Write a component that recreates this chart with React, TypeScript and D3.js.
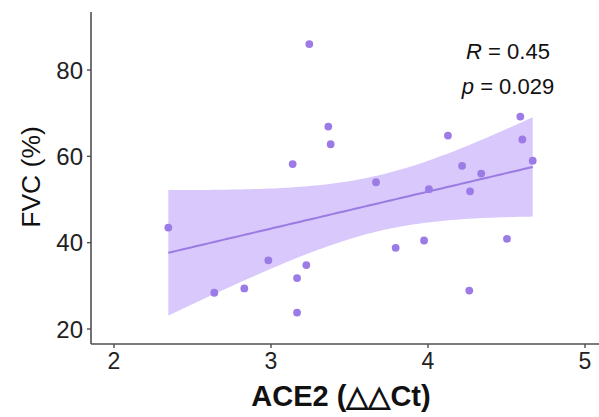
import React from "react";
import * as d3 from "d3";

const ace2: number[] = [2.346, 2.639, 2.830, 2.983, 3.138, 3.166, 3.166, 3.225, 3.244, 3.365, 3.380, 3.669, 3.794, 3.975, 4.006, 4.127, 4.217, 4.268, 4.263, 4.339, 4.503, 4.588, 4.601, 4.667];
const fvc: number[] = [43.5, 28.4, 29.4, 35.9, 58.2, 31.8, 23.8, 34.8, 86.0, 66.9, 62.8, 54.0, 38.8, 40.5, 52.4, 64.8, 57.8, 51.9, 28.9, 56.0, 40.9, 69.2, 63.9, 59.0];
const xTicks: number[] = [2, 3, 4, 5];
const yTicks: number[] = [20, 40, 60, 80];
const statLabels: string[] = ["R", "p"];
const statValues: string[] = ["0.45", "0.029"];
const T_CRIT = 2.074; // t(0.975, df = 22)

const W = 599;
const H = 417;
const FONT = "'Liberation Sans', Arial, Helvetica, sans-serif";

export default function App() {
  const x = d3.scaleLinear().domain([2, 5]).range([114, 585]);
  const y = d3.scaleLinear().domain([20, 80]).range([329, 70]);
  const left = 91;
  const right = 599;
  const top = 12;
  const bottom = 344;

  const n = ace2.length;
  const mx = d3.mean(ace2) as number;
  const my = d3.mean(fvc) as number;
  const sxx = d3.sum(ace2, (v) => (v - mx) ** 2);
  const sxy = d3.sum(ace2.map((v, i) => (v - mx) * (fvc[i] - my)));
  const slope = sxy / sxx;
  const icpt = my - slope * mx;
  const sse = d3.sum(ace2.map((v, i) => (fvc[i] - (icpt + slope * v)) ** 2));
  const s = Math.sqrt(sse / (n - 2));
  const [xmin, xmax] = d3.extent(ace2) as [number, number];
  const grid = d3.range(0, 81).map((k) => xmin + ((xmax - xmin) * k) / 80);
  const band = grid.map((gx) => {
    const fit = icpt + slope * gx;
    const se = s * Math.sqrt(1 / n + (gx - mx) ** 2 / sxx);
    return { gx, fit, lo: fit - T_CRIT * se, hi: fit + T_CRIT * se };
  });
  const area = d3
    .area<{ gx: number; fit: number; lo: number; hi: number }>()
    .x((d) => x(d.gx))
    .y0((d) => y(d.lo))
    .y1((d) => y(d.hi));
  const line = d3
    .line<{ gx: number; fit: number }>()
    .x((d) => x(d.gx))
    .y((d) => y(d.fit));

  const axisColor = "#505050";

  return (
    <svg width={W} height={H} style={{ position: "absolute", left: 0, top: 0 }} fontFamily={FONT}>
      <rect width={W} height={H} fill="#fff" />
      <path d={area(band) || ""} fill="#D8C8FB" />
      <path d={line(band) || ""} fill="none" stroke="#9A7BE2" strokeWidth={2} />
      {ace2.map((v, i) => (
        <circle key={i} cx={x(v)} cy={y(fvc[i])} r={3.9} fill="#9C7BE6" />
      ))}
      <line x1={left} x2={left} y1={top} y2={bottom} stroke={axisColor} strokeWidth={1.6} />
      <line x1={left} x2={right} y1={bottom} y2={bottom} stroke={axisColor} strokeWidth={1.6} />
      {yTicks.map((t) => (
        <g key={t}>
          <line x1={left - 4} x2={left} y1={y(t)} y2={y(t)} stroke={axisColor} strokeWidth={1.4} />
          <text x={left - 8} y={y(t)} dy="0.36em" textAnchor="end" fontSize={24} fill="#222">
            {t}
          </text>
        </g>
      ))}
      {xTicks.map((t) => (
        <g key={t}>
          <line x1={x(t)} x2={x(t)} y1={bottom} y2={bottom + 4} stroke={axisColor} strokeWidth={1.4} />
          <text x={x(t)} y={369} textAnchor="middle" fontSize={23} fill="#222">
            {t}
          </text>
        </g>
      ))}
      <text x={341} y={406} textAnchor="middle" fontSize={29} fontWeight="bold" fill="#111">
        ACE2 (△△Ct)
      </text>
      <text transform="translate(40,177) rotate(-90)" textAnchor="middle" fontSize={26.5} fill="#111">
        FVC (%)
      </text>
      {statLabels.map((lab, i) => (
        <text key={lab} x={508} y={59 + i * 35} textAnchor="middle" fontSize={22} fill="#111">
          <tspan fontStyle="italic">{lab}</tspan>
          {" = " + statValues[i]}
        </text>
      ))}
    </svg>
  );
}
